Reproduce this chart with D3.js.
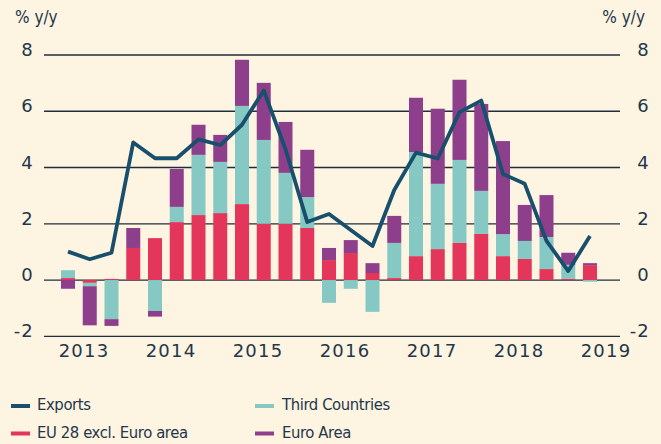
<!DOCTYPE html>
<html>
<head>
<meta charset="utf-8">
<script src="https://cdn.jsdelivr.net/npm/d3@7"></script>
<style>
  html, body { margin: 0; padding: 0; background: #fdf4e1; }
  svg { display: block; }
  .tick-label { font-family: "DejaVu Sans", sans-serif; font-size: 18px; fill: #24364a; letter-spacing: 1.2px; }
  .unit { font-family: "DejaVu Sans Condensed", sans-serif; font-size: 17px; fill: #24364a; }
  .legend-label { font-family: "DejaVu Sans Condensed", sans-serif; font-size: 16.5px; fill: #24364a; letter-spacing: -0.4px; }
</style>
</head>
<body>
<div id="chart"></div>
<script>
// quarters 2013Q1 .. 2019Q1
const quarters = ['2013Q1','2013Q2','2013Q3','2013Q4','2014Q1','2014Q2','2014Q3','2014Q4',
  '2015Q1','2015Q2','2015Q3','2015Q4','2016Q1','2016Q2','2016Q3','2016Q4',
  '2017Q1','2017Q2','2017Q3','2017Q4','2018Q1','2018Q2','2018Q3','2018Q4','2019Q1'];

const eu28 = [0.07, -0.10, 0.04, 1.14, 1.49, 2.06, 2.31, 2.38, 2.70, 2.00, 2.00, 1.85, 0.71,
  0.96, 0.25, 0.07, 0.85, 1.10, 1.32, 1.64, 0.85, 0.75, 0.39, 0.04, 0.53];
const thirdCountries = [0.28, -0.12, -1.39, 0, -1.10, 0.54, 2.14, 1.82, 3.49, 2.98, 1.81, 1.10, -0.81,
  -0.31, -1.13, 1.25, 3.70, 2.32, 2.95, 1.53, 0.78, 0.64, 1.14, 0.50, -0.06];
const euroArea = [-0.31, -1.39, -0.24, 0.71, -0.20, 1.35, 1.07, 0.96, 1.64, 2.03, 1.81, 1.68, 0.43,
  0.46, 0.35, 0.96, 1.93, 2.67, 2.85, 3.09, 3.31, 1.28, 1.49, 0.43, 0.07];
const exports = [1.01, 0.74, 0.97, 4.89, 4.33, 4.33, 5.00, 4.80, 5.52, 6.74, 4.65, 2.06, 2.35,
  1.78, 1.21, 3.20, 4.53, 4.32, 5.97, 6.38, 3.77, 3.42, 1.39, 0.32, 1.57];

const yTicks = [-2, 0, 2, 4, 6, 8];
const years = ['2013', '2014', '2015', '2016', '2017', '2018', '2019'];

const seriesKeys = ['eu28', 'third', 'euro'];
const colors = { eu28: '#e3365a', third: '#86c8c3', euro: '#8e3f8b', exports: '#184f6d' };

const width = 661, height = 444;

const svg = d3.select('#chart').append('svg')
    .attr('width', width)
    .attr('height', height);

svg.append('rect').attr('width', width).attr('height', height).attr('fill', '#fdf4e1');

// scales
const x = d3.scaleBand()
    .domain(quarters)
    .range([61, 597])
    .paddingInner(0.356)
    .paddingOuter(0);

const y = d3.scaleLinear()
    .domain([-2, 8])
    .range([336.3, 55]);

// grid lines
svg.append('g').selectAll('line')
    .data(yTicks)
  .join('line')
    .attr('x1', 44)
    .attr('x2', 620)
    .attr('y1', d => y(d))
    .attr('y2', d => y(d))
    .attr('stroke', '#1f2d3d')
    .attr('stroke-width', 1.3);

// tick labels left & right
svg.append('g').selectAll('text')
    .data(yTicks)
  .join('text')
    .attr('class', 'tick-label')
    .attr('x', 34)
    .attr('y', d => y(d) + 1)
    .attr('text-anchor', 'end')
    .text(d => d);

svg.append('g').selectAll('text')
    .data(yTicks)
  .join('text')
    .attr('class', 'tick-label')
    .attr('x', 650)
    .attr('y', d => y(d) + 1)
    .attr('text-anchor', 'end')
    .text(d => d);

svg.append('text').attr('class', 'unit').attr('x', 15).attr('y', 23).text('% y/y');
svg.append('text').attr('class', 'unit').attr('x', 645).attr('y', 23).attr('text-anchor', 'end').text('% y/y');

// year labels
svg.append('g').selectAll('text')
    .data(years)
  .join('text')
    .attr('class', 'tick-label')
    .attr('x', d => x(d + 'Q1') + x.bandwidth() / 2 + 16)
    .attr('y', 357)
    .attr('text-anchor', 'middle')
    .text(d => d);

// stacked bars
const table = quarters.map((q, i) => ({
  q: q, eu28: eu28[i], third: thirdCountries[i], euro: euroArea[i]
}));

const stacked = d3.stack()
    .keys(seriesKeys)
    .offset(d3.stackOffsetDiverging)(table);

svg.append('g').selectAll('g')
    .data(stacked)
  .join('g')
    .attr('fill', d => colors[d.key])
  .selectAll('rect')
    .data(d => d)
  .join('rect')
    .attr('x', d => x(d.data.q))
    .attr('width', x.bandwidth())
    .attr('y', d => y(Math.max(d[0], d[1])))
    .attr('height', d => Math.abs(y(d[0]) - y(d[1])));

// exports line
const line = d3.line()
    .x((d, i) => x(quarters[i]) + x.bandwidth() / 2)
    .y(d => y(d));

svg.append('path')
    .datum(exports)
    .attr('d', line)
    .attr('fill', 'none')
    .attr('stroke', colors.exports)
    .attr('stroke-width', 3.8)
    .attr('stroke-linejoin', 'round');

// legend
const legendItems = [
  { label: 'Exports', key: 'exports', x: 11, y: 406 },
  { label: 'EU 28 excl. Euro area', key: 'eu28', x: 11, y: 433.5 },
  { label: 'Third Countries', key: 'third', x: 255, y: 406 },
  { label: 'Euro Area', key: 'euro', x: 255, y: 433.5 }
];

const legend = svg.append('g').selectAll('g')
    .data(legendItems)
  .join('g')
    .attr('transform', d => `translate(${d.x},${d.y})`);

legend.append('rect')
    .attr('x', 0)
    .attr('y', -2)
    .attr('width', 19)
    .attr('height', 4)
    .attr('fill', d => colors[d.key]);

legend.append('text')
    .attr('class', 'legend-label')
    .attr('x', d => d.key === 'exports' || d.key === 'eu28' ? 26 : 27)
    .attr('y', 4)
    .text(d => d.label);
</script>
</body>
</html>
